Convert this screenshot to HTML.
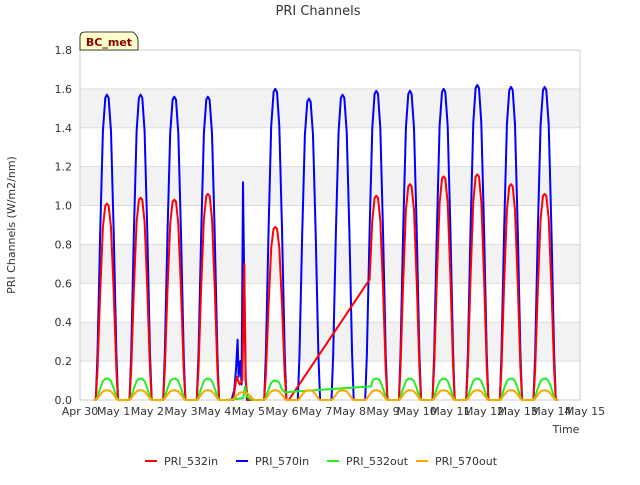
<!DOCTYPE html>
<html><head><meta charset="utf-8"><style>
body{margin:0;background:#fff;font-family:"Liberation Sans","DejaVu Sans",sans-serif}
svg text{font-family:"DejaVu Sans","Liberation Sans",sans-serif}
</style></head><body>
<svg id="chart" width="640" height="480">
<text x="318" y="15" text-anchor="middle" font-size="13" fill="#333">PRI Channels</text>
<g id="bands"></g><g id="grid"></g>
<rect x="80" y="50" width="500" height="350" fill="none" stroke="#ccc"/>
<g id="axes"></g><g id="series"></g>
<text x="15" y="225" transform="rotate(-90 15 225)" text-anchor="middle" font-size="11" fill="#333">PRI Channels (W/m2/nm)</text>
<text x="566" y="433" text-anchor="middle" font-size="11" fill="#333">Time</text>
<g>
<path d="M80,50 L80,37 Q80,32 85,32 L133,32 Q138,36 138,40 L138,50 Z" fill="#ffffcc" stroke="#000" stroke-width="0.8"/>
<text x="109" y="46" text-anchor="middle" font-size="11" font-weight="bold" fill="#8b0000">BC_met</text>
</g>
<g id="legend"></g>
</svg>
<script>
const xTickLabels=["Apr 30","May 1","May 2","May 3","May 4","May 5","May 6","May 7","May 8","May 9","May 10","May 11","May 12","May 13","May 14","May 15"];
const yTicks=[0,0.2,0.4,0.6,0.8,1.0,1.2,1.4,1.6,1.8];
const peakDays=[0.8,1.8,2.8,3.8,4.85,5.8,6.8,7.8,8.8,9.8,10.8,11.8,12.8,13.8];
const blue532=[1.57,1.57,1.56,1.56,null,1.60,1.55,1.57,1.59,1.59,1.60,1.62,1.61,1.61];
const red532=[1.01,1.04,1.03,1.06,null,0.89,null,null,1.05,1.11,1.15,1.16,1.11,1.06];
const green532out=[0.11,0.11,0.11,0.11,null,0.10,null,null,0.11,0.11,0.11,0.11,0.11,0.11];
const orange570out=[0.05,0.05,0.05,0.05,0.04,0.05,0.05,0.05,0.05,0.05,0.05,0.05,0.05,0.05];
const shapeOffsets=[-0.4,-0.33,-0.28,-0.2,-0.12,-0.05,0,0.05,0.12,0.2,0.28,0.33,0.4];
const shapeValues=[0,0,0.15,0.55,0.88,0.99,1,0.99,0.88,0.55,0.15,0,0];
const blueExtra=[[4.5,0],[4.58,0.05],[4.63,0.15],[4.68,0.31],[4.71,0.12],[4.76,0.2],[4.8,0.08],[4.84,1.12],[4.87,0.7],[4.92,0.1],[4.96,0]];
const redExtra=[[4.55,0],[4.65,0.12],[4.74,0.08],[4.82,0.1],[4.88,0.7],[4.92,0.1],[4.98,0],[6.2,0],[8.6,0.62]];
const greenExtra=[[4.3,0],[4.85,0.01],[4.9,0.07],[4.95,0.02],[5.1,0],[6.08,0.04],[8.65,0.07]];
const redCut=[6.15,8.66], greenCut=[6.05,8.66];
const X0=80,X1=580,Y0=400,Y1=50,XMAX=14.85,YMAX=1.8;
const xs=t=>X0+(t/XMAX)*(X1-X0), ys=v=>Y0-(v/YMAX)*(Y0-Y1);
const NS="http://www.w3.org/2000/svg";
function mk(tag,attrs,parent){const e=document.createElementNS(NS,tag);for(const k in attrs)e.setAttribute(k,attrs[k]);parent.appendChild(e);return e;}
const bands=document.getElementById('bands'),grid=document.getElementById('grid'),axes=document.getElementById('axes'),series=document.getElementById('series'),legend=document.getElementById('legend');
for(let i=1;i<yTicks.length-1;i+=2){const r=mk('rect',{x:X0,y:ys(yTicks[i+1]),width:X1-X0,height:ys(yTicks[i])-ys(yTicks[i+1]),fill:'#f2f2f2'},bands);

}
yTicks.forEach(v=>{const l=mk('line',{x1:X0,x2:X1,y1:ys(v),y2:ys(v),stroke:'#ddd'},grid);


const t=mk('text',{x:72,y:ys(v)+4,'text-anchor':'end','font-size':11,fill:'#333'},axes);t.textContent=v.toFixed(1);

});
xTickLabels.forEach((s,i)=>{const t=mk('text',{x:X0+i*(X1-X0)/XMAX,y:415,'text-anchor':'middle','font-size':11,fill:'#333'},axes);t.textContent=s;

});
function build(peaks,extra,cut){let pts=[];peaks.forEach((p,i)=>{if(p==null)return;shapeOffsets.forEach((o,j)=>{const t=peakDays[i]+o;if(cut&&t>cut[0]&&t<cut[1])return;pts.push([t,p*shapeValues[j]]);});});
pts=pts.concat(extra);pts.sort((a,b)=>a[0]-b[0]);return pts.map(p=>xs(p[0]).toFixed(1)+','+ys(p[1]).toFixed(1)).join(' ');}
const defs=[["PRI_532in",red532,redExtra,'#ff0000','series-pri-532in',redCut],["PRI_570in",blue532,blueExtra,'#0000ff','series-pri-570in',null],["PRI_532out",green532out,greenExtra,'#22ee22','series-pri-532out',greenCut],["PRI_570out",orange570out,[],'#ffa500','series-pri-570out',null]];
[1,0,2,3].forEach(k=>{const d=defs[k];const pl=mk('polyline',{points:build(d[1],d[2],d[5]),fill:'none',stroke:d[3],'stroke-width':2,'stroke-linejoin':'round'},series);

});
const lx=[145,236,327,416];
defs.forEach((d,i)=>{const g=mk('g',{},legend);


mk('line',{x1:lx[i],x2:lx[i]+12,y1:461,y2:461,stroke:d[3],'stroke-width':2},g);
const t=mk('text',{x:lx[i]+19,y:465,'font-size':11,fill:'#333'},g);t.textContent=d[0];});
</script>
</body></html>
